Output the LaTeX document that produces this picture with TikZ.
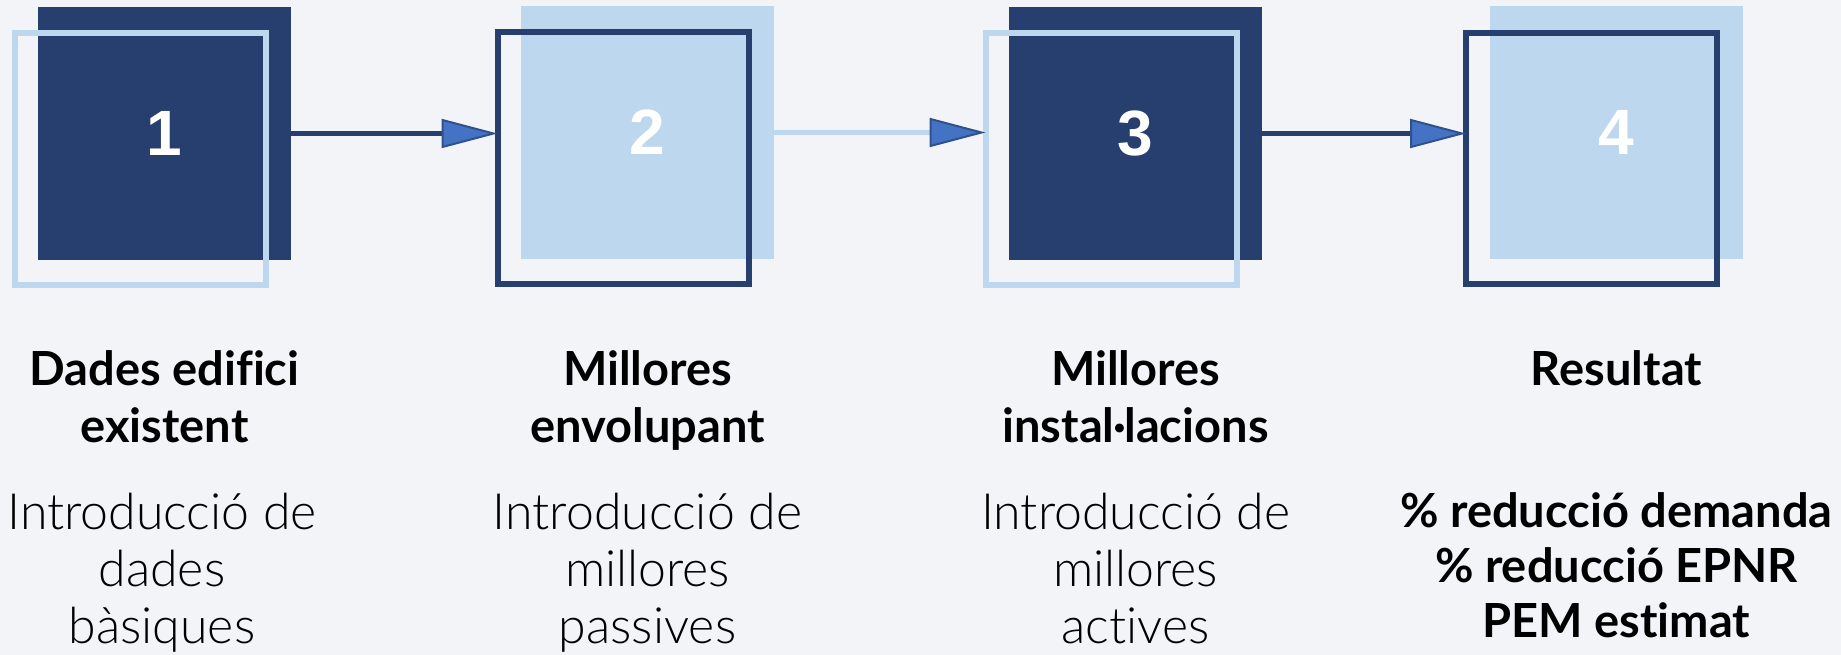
\documentclass[tikz,border=0pt]{standalone}
\usepackage{fontspec}
\setmainfont{Lato}[Ligatures=CommonOff]
\newfontfamily\lightfont{Lato Light}[Ligatures=CommonOff]
\newfontfamily\numfont{Liberation Sans}
\usetikzlibrary{arrows.meta}
\definecolor{navy}{HTML}{273F6F}
\definecolor{paleblue}{HTML}{BDD7EE}
\definecolor{tipblue}{HTML}{4472C4}
\definecolor{tipedge}{HTML}{2F528F}
\definecolor{pagebg}{HTML}{F2F4F8}

\begin{document}
\begin{tikzpicture}[x=1pt, y=-1pt,
  stepfill/.style={minimum size=253pt, inner sep=0pt, outer sep=0pt, text=white,
    font=\numfont\bfseries\fontsize{64}{64}\selectfont},
  stepframe/.style={minimum size=251pt, inner sep=0pt, outer sep=0pt, line width=6pt},
  flow/.style={line width=4.5pt,
    -{Triangle[length=56pt, width=29pt, line width=2pt, color=tipedge, fill=tipblue]}},
  steptitle/.style={align=center, anchor=base, font=\bfseries\fontsize{47}{57}\selectfont},
  stepnote/.style={align=center, anchor=base, font=\lightfont\fontsize{50}{57}\selectfont}]

\useasboundingbox (0,0) rectangle (1841,655);
\fill[pagebg] (0,0) rectangle (1841,655);

% Squares (filled ones carry the number)
\node[stepfill, fill=navy] (f1) at (164.5,133.5) {1};
\node[stepfill, fill=paleblue] (f2) at (647.5,132.5) {2};
\node[stepfill, fill=navy] (f3) at (1135.5,133.5) {3};
\node[stepfill, fill=paleblue] (f4) at (1616.5,132.5) {4};

% Frames on top, shifted down-left
\node[stepframe, draw=paleblue] (o1) at (140.5,159) {};
\node[stepframe, draw=navy] (o2) at (623,158) {};
\node[stepframe, draw=paleblue] (o3) at (1111,159) {};
\node[stepframe, draw=navy] (o4) at (1591.5,158.5) {};

% Arrows between steps
\draw[flow, navy] (f1.east) -- (f1.east -| o2.west);
\draw[flow, paleblue] (f2.east) -- (f2.east -| o3.west);
\draw[flow, navy] (f3.east) -- (f3.east -| o4.west);

% Titles (base = last line)
\node[steptitle] (t1) at (164.5,442) {Dades edifici\\existent};
\node[steptitle] (t2) at (647.5,442) {Millores\\envolupant};
\node[steptitle] (t3) at (1135.5,442) {Millores\\instal·lacions};
\node[steptitle] (t4) at (1616.5,385) {Resultat};

% Descriptions
\node[stepnote] (n1) at (162,643) {Introducció de\\dades\\bàsiques};
\node[stepnote] (n2) at (647.5,643) {Introducció de\\millores\\passives};
\node[stepnote] (n3) at (1135.5,643) {Introducció de\\millores\\actives};
\node[steptitle, font=\bfseries\fontsize{47}{55}\selectfont] (n4) at (1616.5,637)
  {\% reducció demanda\\\% reducció EPNR\\PEM estimat};

\end{tikzpicture}
\end{document}
